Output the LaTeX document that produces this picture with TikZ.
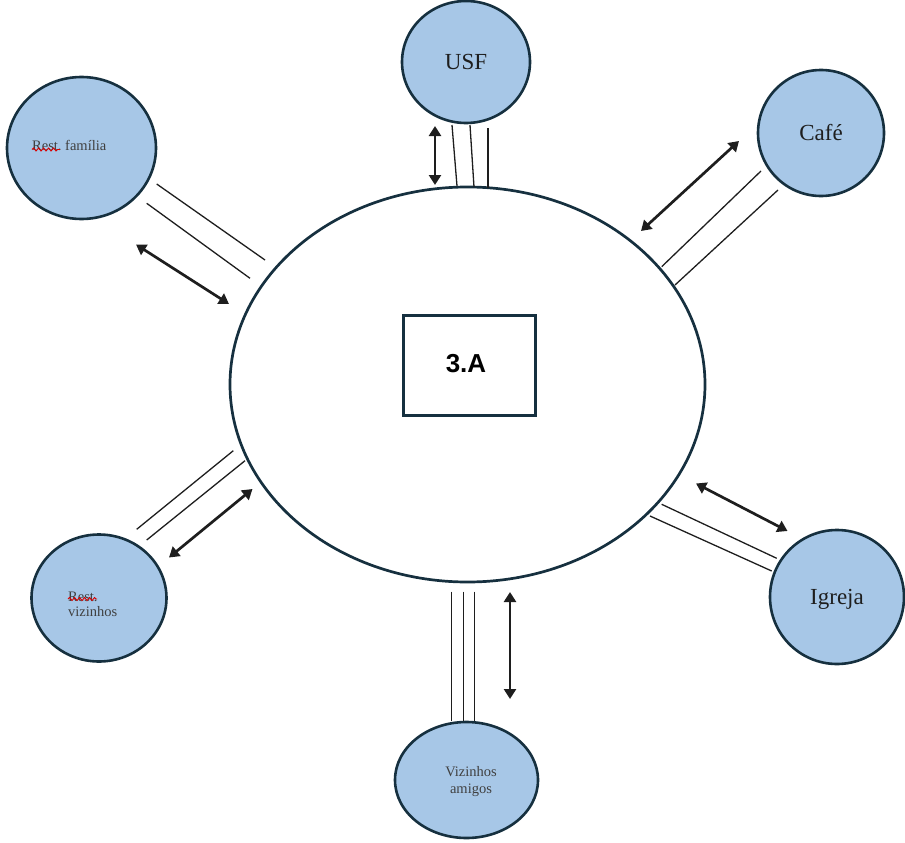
\documentclass[tikz,border=0pt]{standalone}
\usepackage{fontspec}
\setmainfont{Liberation Serif}
\newfontfamily\headsans{Liberation Sans}
\usetikzlibrary{shapes.geometric,arrows.meta,decorations.pathmorphing}
\definecolor{rim}{HTML}{16303F}
\definecolor{bubble}{HTML}{A7C7E7}
\definecolor{ink}{HTML}{1E1E1E}
\frenchspacing
\begin{document}
\begin{tikzpicture}[x=1pt,y=-1pt,
  hub/.style={ellipse,draw=rim,line width=2.7pt,inner sep=0pt,
    minimum width=475pt,minimum height=395pt},
  contact/.style={ellipse,draw=rim,fill=bubble,line width=2.6pt,inner sep=0pt,
    font=\fontsize{23}{27}\selectfont,text=ink},
  tie/.style={draw=ink,line width=1.3pt},
  flow/.style={draw=ink,line width=2.7pt,
    {Triangle[length=10pt,width=12pt]}-{Triangle[length=10pt,width=12pt]}},
  small/.style={inner sep=0pt,font=\fontsize{14.5}{15}\selectfont,text=black!75},
  squiggle/.style={draw=red!85!black,line width=0.9pt,decorate,
    decoration={snake,amplitude=1.5pt,segment length=5pt}}
]
\useasboundingbox (0,0) rectangle (905,843);

% central household
\node[hub] (hub) at (467.5,384.5) {};
\node[draw=rim,line width=3pt,minimum width=132pt,minimum height=100pt,inner sep=0pt]
  (unit) at (469,365) {};
\node[inner sep=0pt,font=\headsans\bfseries\fontsize{26}{30}\selectfont] (unittxt)
  at (466,364) {3.A};

% surrounding contacts
\node[contact,minimum width=128pt,minimum height=122pt] (usf) at (466,62) {USF};
\node[contact,minimum width=149pt,minimum height=142pt] (famrest) at (81.5,148) {};
\node[contact,minimum width=126pt,minimum height=126pt] (cafe) at (821,133) {Café};
\node[contact,minimum width=134pt,minimum height=134pt,text depth=0pt] (igreja)
  at (837,597) {Igreja};
\node[contact,minimum width=135pt,minimum height=127pt] (vizrest) at (99,598) {};
\node[contact,minimum width=143pt,minimum height=116pt] (amigos) at (466.5,780) {};

% labels set apart from the circle centres (base = last line)
\node[small,anchor=base west] (famtxt) at (32,150) {Rest. família};
\draw[squiggle] (32,149.5) -- (60,149.5);
\node[small,anchor=base west,align=left] (viztxt) at (68,616) {Rest.\\vizinhos};
\draw[squiggle] (68,599) -- (97,599);
\node[small,anchor=base,align=center,font=\fontsize{14.5}{17}\selectfont] (amtxt)
  at (471,793) {Vizinhos\\amigos};

% USF
\draw[tie] (452,125) -- (457,186);
\draw[tie] (470,125) -- (474,187);
\draw[tie] (488,128) -- (488,188);
\draw[flow] (435,126) -- (435,185);

% Cafe
\draw[tie] (661.7,266.7) -- (761,171);
\draw[tie] (675,285) -- (778,190);
\draw[flow] (641,231) -- (739,141);

% Rest. familia
\draw[tie] (156.7,184) -- (265,260);
\draw[tie] (146.7,203.3) -- (250,278.3);
\draw[flow] (136,244.5) -- (229,304);

% Rest. vizinhos
\draw[tie] (136.7,529.3) -- (233.3,450.7);
\draw[tie] (146.7,540) -- (245,460.7);
\draw[flow] (169,557.5) -- (252.5,489);

% Igreja
\draw[tie] (661.7,504.3) -- (776.7,558.3);
\draw[tie] (650,516) -- (771.7,571);
\draw[flow] (696,483.5) -- (787.5,531);

% Vizinhos amigos
\draw[tie] (451.7,591.7) -- (451.7,721);
\draw[tie] (463.3,591.7) -- (463.3,721);
\draw[tie] (474.3,591.7) -- (474.3,721);
\draw[flow] (510,592) -- (510,699);
\end{tikzpicture}
\end{document}
